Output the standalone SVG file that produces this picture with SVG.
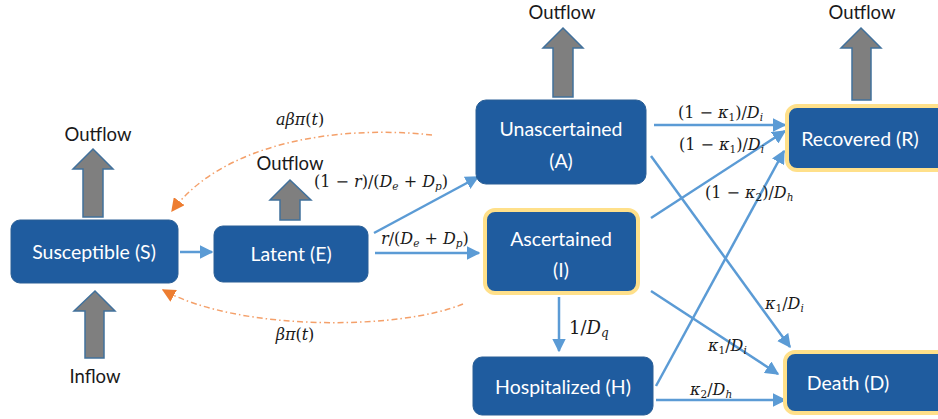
<svg xmlns="http://www.w3.org/2000/svg" width="938" height="419" viewBox="0 0 938 419">
  <style>
    .box { fill: #1F5C9F; stroke: #2A5F96; stroke-width: 1; }
    .hl { stroke: #FFE08A; stroke-width: 4; }
    .lbl { font-family: Lato, "Open Sans", "Liberation Sans", sans-serif; font-size: 19.5px; fill: #FFFFFF; text-anchor: middle; }
    .flowtxt { font-family: Lato, "Open Sans", "Liberation Sans", sans-serif; font-size: 18.5px; fill: #1A1A1A; text-anchor: middle; }
    .math { font-family: "DejaVu Serif", "Liberation Serif", serif; font-size: 16px; fill: #1A1A1A; }
    .it { font-style: italic; }
    .sub { font-size: 10.5px; font-style: italic; }
    .subn { font-size: 10.5px; }
    .block { fill: #7F7F7F; stroke: #41719C; stroke-width: 1.5; }
    .conn { fill: none; stroke: #5B9BD5; stroke-width: 2.5; }
    .fb { fill: none; stroke: #F4A06A; stroke-width: 1.5; stroke-dasharray: 6 3 1.5 3; }
  </style>
  <defs>
    <marker id="ah" viewBox="0 0 10 10" refX="9" refY="5" markerWidth="5.5" markerHeight="5.5" orient="auto" markerUnits="strokeWidth">
      <path d="M0,0 L10,5 L0,10 z" fill="#5B9BD5"/>
    </marker>
    <marker id="oh" viewBox="0 0 10 10" refX="9" refY="5" markerWidth="9" markerHeight="9" orient="auto" markerUnits="strokeWidth">
      <path d="M0,0 L10,5 L0,10 z" fill="#ED7D31"/>
    </marker>
  </defs>

  <!-- inflow / outflow block arrows -->
  <g id="flows">
    <path class="block" d="M93,149 L113,169 L103,169 L103,217 L83,217 L83,169 L73,169 Z"/>
    <text class="flowtxt" x="98" y="141">Outflow</text>
    <path class="block" d="M95,291 L115,311 L104,311 L104,358 L85,358 L85,311 L74,311 Z"/>
    <text class="flowtxt" x="95" y="383">Inflow</text>
    <path class="block" d="M290,180 L311,200 L300,200 L300,220 L280,220 L280,200 L270,200 Z"/>
    <text class="flowtxt" x="290" y="170">Outflow</text>
    <path class="block" d="M563,28 L583,48 L573,48 L573,97 L553,97 L553,48 L543,48 Z"/>
    <text class="flowtxt" x="562" y="19">Outflow</text>
    <path class="block" d="M861,28 L881,48 L871,48 L871,100 L852,100 L852,48 L841,48 Z"/>
    <text class="flowtxt" x="862" y="19">Outflow</text>
  </g>

  <!-- transitions between compartments -->
  <g id="connectors">
    <line class="conn" x1="180" y1="252" x2="212" y2="252" marker-end="url(#ah)"/>
    <line class="conn" x1="374" y1="233" x2="478" y2="177" marker-end="url(#ah)"/>
    <line class="conn" x1="375" y1="253" x2="479" y2="253" marker-end="url(#ah)"/>
    <line class="conn" x1="654" y1="125" x2="785" y2="125" marker-end="url(#ah)"/>
    <line class="conn" x1="651" y1="218" x2="785" y2="131" marker-end="url(#ah)"/>
    <line class="conn" x1="656" y1="386" x2="784" y2="151" marker-end="url(#ah)"/>
    <line class="conn" x1="651" y1="156" x2="790" y2="347" marker-end="url(#ah)"/>
    <line class="conn" x1="651" y1="291" x2="778" y2="374" marker-end="url(#ah)"/>
    <line class="conn" x1="656" y1="400" x2="785" y2="400" marker-end="url(#ah)"/>
    <line class="conn" x1="559" y1="297" x2="559" y2="351" marker-end="url(#ah)"/>
    <path class="fb" d="M432,135 C330,124 220,146 172,211" marker-end="url(#oh)"/>
    <path class="fb" d="M463,304 C400,330 240,332 163,290" marker-end="url(#oh)"/>
  </g>

  <!-- rate labels -->
  <g id="rates">
    <text class="math" x="300" y="125" text-anchor="middle"><tspan class="it">aβπ</tspan>(<tspan class="it">t</tspan>)</text>
    <text class="math" x="295" y="340" text-anchor="middle"><tspan class="it">βπ</tspan>(<tspan class="it">t</tspan>)</text>
    <text class="math" x="314" y="187">(1 − <tspan class="it">r</tspan>)/(<tspan class="it">D</tspan><tspan class="sub" dy="3">e</tspan><tspan dy="-3"> + </tspan><tspan class="it">D</tspan><tspan class="sub" dy="3">p</tspan><tspan dy="-3">)</tspan></text>
    <text class="math" x="381" y="244"><tspan class="it">r</tspan>/(<tspan class="it">D</tspan><tspan class="sub" dy="3">e</tspan><tspan dy="-3"> + </tspan><tspan class="it">D</tspan><tspan class="sub" dy="3">p</tspan><tspan dy="-3">)</tspan></text>
    <text class="math" x="678" y="118">(1 − <tspan class="it">κ</tspan><tspan class="subn" dy="3">1</tspan><tspan dy="-3">)/</tspan><tspan class="it">D</tspan><tspan class="sub" dy="3">i</tspan></text>
    <text class="math" x="679" y="150">(1 − <tspan class="it">κ</tspan><tspan class="subn" dy="3">1</tspan><tspan dy="-3">)/</tspan><tspan class="it">D</tspan><tspan class="sub" dy="3">i</tspan></text>
    <text class="math" x="705" y="198">(1 − <tspan class="it">κ</tspan><tspan class="subn" dy="3">2</tspan><tspan dy="-3">)/</tspan><tspan class="it">D</tspan><tspan class="sub" dy="3">h</tspan></text>
    <text class="math" x="765" y="309"><tspan class="it">κ</tspan><tspan class="subn" dy="3">1</tspan><tspan dy="-3">/</tspan><tspan class="it">D</tspan><tspan class="sub" dy="3">i</tspan></text>
    <text class="math" x="708" y="351"><tspan class="it">κ</tspan><tspan class="subn" dy="3">1</tspan><tspan dy="-3">/</tspan><tspan class="it">D</tspan><tspan class="sub" dy="3">i</tspan></text>
    <text class="math" x="690" y="395"><tspan class="it">κ</tspan><tspan class="subn" dy="3">2</tspan><tspan dy="-3">/</tspan><tspan class="it">D</tspan><tspan class="sub" dy="3">h</tspan></text>
    <text class="math" x="569" y="334" style="font-size:18px">1/<tspan class="it">D</tspan><tspan class="sub" dy="3" style="font-size:12px">q</tspan></text>
  </g>

  <!-- compartments -->
  <g id="susceptible">
    <rect class="box" x="11" y="220" width="167" height="63" rx="9"/>
    <text class="lbl" x="94" y="259">Susceptible (S)</text>
  </g>
  <g id="latent">
    <rect class="box" x="214" y="226" width="154" height="56" rx="9"/>
    <text class="lbl" x="291" y="261">Latent (E)</text>
  </g>
  <g id="unascertained">
    <rect class="box" x="476" y="100" width="170" height="84" rx="10"/>
    <text class="lbl" x="561" y="136">Unascertained</text>
    <text class="lbl" x="561" y="168">(A)</text>
  </g>
  <g id="ascertained">
    <rect class="box hl" x="485" y="210" width="153" height="83" rx="10"/>
    <text class="lbl" x="561" y="246">Ascertained</text>
    <text class="lbl" x="561" y="277">(I)</text>
  </g>
  <g id="hospitalized">
    <rect class="box" x="473" y="357" width="180" height="58" rx="9"/>
    <text class="lbl" x="563" y="394">Hospitalized (H)</text>
  </g>
  <g id="recovered">
    <rect class="box hl" x="787" y="106" width="170" height="64" rx="10"/>
    <text class="lbl" x="860" y="146">Recovered (R)</text>
  </g>
  <g id="death">
    <rect class="box hl" x="785" y="352" width="172" height="61" rx="10"/>
    <text class="lbl" x="848" y="390">Death (D)</text>
  </g>
</svg>
